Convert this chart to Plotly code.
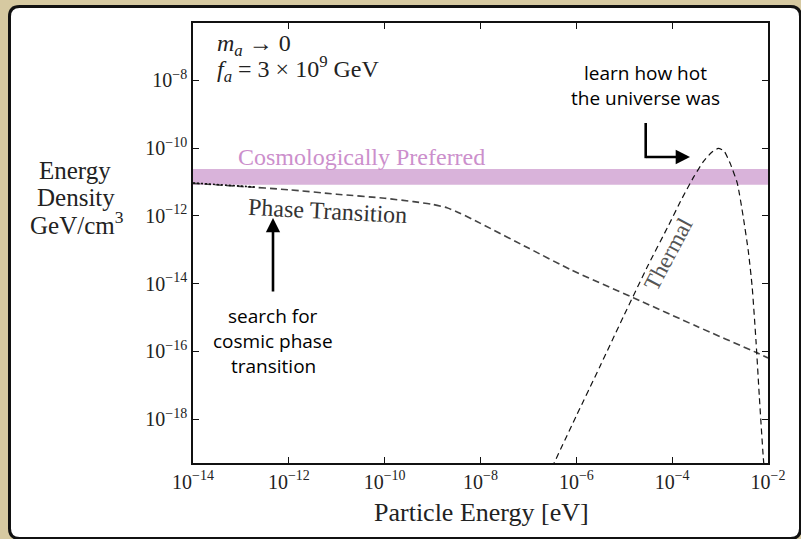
import plotly.graph_objects as go

# Axion energy density spectrum (log10 of energy in eV, log10 of density in GeV/cm^3)
phase_log_e = [-14.0, -13.0, -12.0, -11.0, -10.0, -9.4, -9.0, -8.7, -8.43,
               -8.0, -7.0, -6.1, -4.8, -3.5, -2.23, -2.0]
phase_log_rho = [-11.04, -11.13, -11.23, -11.36, -11.48, -11.58, -11.66, -11.76,
                 -11.92, -12.22, -12.95, -13.60, -14.42, -15.25, -16.04, -16.19]

# low-energy overlap of the phase-transition curve
early_log_e = [-14.0, -13.5, -13.0, -12.7]
early_log_rho = [-11.03, -11.07, -11.12, -11.15]

thermal_log_e = [-6.60, -6.00, -5.50, -5.00, -4.50, -4.10, -3.80, -3.55, -3.35,
                 -3.18, -3.04, -2.92, -2.79, -2.64, -2.52, -2.41, -2.33, -2.25,
                 -2.18, -2.10, -2.07]
thermal_log_rho = [-19.70, -17.90, -16.42, -14.92, -13.45, -12.35, -11.50, -10.85,
                   -10.40, -10.13, -10.01, -10.08, -10.45, -11.04, -12.00, -13.05,
                   -14.10, -15.70, -17.35, -19.10, -19.60]

# cosmologically preferred band
band_log_e = [-14.0, -2.0]
band_log_low = -11.08
band_log_high = -10.62

x_tick_exp = [-14, -12, -10, -8, -6, -4, -2]
y_tick_exp = [-18, -16, -14, -12, -10, -8]


def pw(v):
    return [10.0 ** a for a in v]


def sup(e):
    return "10<sup>\u2212%d</sup>" % abs(e)


W, H = 801, 539
ML, MR, MT, MB = 193, 33, 23, 76
PW, PH = W - ML - MR, H - MT - MB


def px(x):
    return (x - ML) / PW


def py(y):
    return (H - MB - y) / PH


SERIF = "Liberation Serif, DejaVu Serif, serif"
SANS = "Open Sans, Noto Sans, sans-serif"

fig = go.Figure()

fig.add_trace(go.Scatter(
    x=pw(band_log_e), y=[10 ** band_log_low] * 2, mode="lines",
    line=dict(width=0, color="rgba(0,0,0,0)"), hoverinfo="skip", showlegend=False))
fig.add_trace(go.Scatter(
    x=pw(band_log_e), y=[10 ** band_log_high] * 2, mode="lines",
    line=dict(width=0, color="rgba(0,0,0,0)"), fill="tonexty",
    fillcolor="#d9b3da", hoverinfo="skip", showlegend=False))

fig.add_trace(go.Scatter(
    x=pw(phase_log_e), y=pw(phase_log_rho), mode="lines",
    line=dict(color="#444444", width=1.6, dash="7px,4px", shape="spline", smoothing=0.6),
    showlegend=False))
fig.add_trace(go.Scatter(
    x=pw(early_log_e), y=pw(early_log_rho), mode="lines",
    line=dict(color="#111111", width=1.6, dash="2px,2px"),
    showlegend=False))
fig.add_trace(go.Scatter(
    x=pw(thermal_log_e), y=pw(thermal_log_rho), mode="lines",
    line=dict(color="#111111", width=1.2, dash="6px,4px", shape="spline", smoothing=0.5),
    showlegend=False))

axis_common = dict(
    type="log", showgrid=False, zeroline=False, showline=True, linecolor="#111111",
    linewidth=1.5, mirror="ticks", ticks="inside", ticklen=6, tickwidth=1.2,
    tickcolor="#111111", tickfont=dict(family=SERIF, size=20, color="#222222"))

fig.update_xaxes(range=[-14, -2], tickvals=pw(x_tick_exp),
                 ticktext=[sup(e) for e in x_tick_exp], **axis_common)
fig.update_yaxes(range=[-19.29, -6.31], tickvals=pw(y_tick_exp),
                 ticktext=[sup(e) for e in y_tick_exp], **axis_common)

# rounded white card with black border
x0, y0, x1, y1, r = px(9.5), py(6.5), px(800.5), py(538.5), 10
rx, ry = r / PW, r / PH
card = (f"M {x0 + rx},{y0} L {x1 - rx},{y0} Q {x1},{y0} {x1},{y0 - ry} "
        f"L {x1},{y1 + ry} Q {x1},{y1} {x1 - rx},{y1} L {x0 + rx},{y1} "
        f"Q {x0},{y1} {x0},{y1 + ry} L {x0},{y0 - ry} Q {x0},{y0} {x0 + rx},{y0} Z")
shapes = [dict(type="path", xref="paper", yref="paper", path=card,
               fillcolor="white", line=dict(color="#111111", width=3), layer="below"),
          dict(type="line", xref="paper", yref="paper",
               x0=px(645.7), x1=px(645.7), y0=py(123), y1=py(158.2),
               line=dict(color="black", width=2.6))]

annotations = []


def label(text, x, y, size, color="#222222", family=SERIF, angle=0, xanchor="center"):
    annotations.append(dict(
        text=text, x=px(x), y=py(y), xref="paper", yref="paper", showarrow=False,
        xanchor=xanchor, yanchor="middle", textangle=angle,
        font=dict(family=family, size=size, color=color)))


label("<i>m</i><sub><i>a</i></sub> \u2192 0", 215, 45, 24, xanchor="left")
label("<i>f</i><sub><i>a</i></sub> = 3 \u00d7 10<sup>9</sup> GeV", 215, 69, 24, xanchor="left")
label("Cosmologically Preferred", 236, 157, 24, color="#cc8fcc", xanchor="left")
label("Phase Transition", 327, 211, 24, color="#333333", angle=3)
label("Thermal", 668, 254, 23, color="#555555", angle=-62)
label("learn how hot", 645, 73, 19, color="black", family=SANS)
label("the universe was", 645, 98, 19, color="black", family=SANS)
label("search for", 273, 316, 19, color="black", family=SANS)
label("cosmic phase", 273, 341, 19, color="black", family=SANS)
label("transition", 273, 366, 19, color="black", family=SANS)
label("Energy", 75, 171, 25)
label("Density", 76, 197, 25)
label("GeV/cm<sup>3</sup>", 77, 223, 25)
label("Particle Energy [eV]", 481, 512, 26)

# arrows
annotations.append(dict(
    x=px(273), y=py(218), xref="paper", yref="paper", ax=0, ay=75, text="",
    showarrow=True, arrowhead=2, arrowsize=1.1, arrowwidth=2.6, arrowcolor="black"))
annotations.append(dict(
    x=px(690), y=py(157), xref="paper", yref="paper", ax=-45, ay=0, text="",
    showarrow=True, arrowhead=2, arrowsize=1.1, arrowwidth=2.6, arrowcolor="black"))

fig.update_layout(
    width=W, height=H, margin=dict(l=ML, r=MR, t=MT, b=MB),
    paper_bgcolor="#d6c9a1", plot_bgcolor="white",
    shapes=shapes, annotations=annotations, showlegend=False)

fig.write_html("out.html")
